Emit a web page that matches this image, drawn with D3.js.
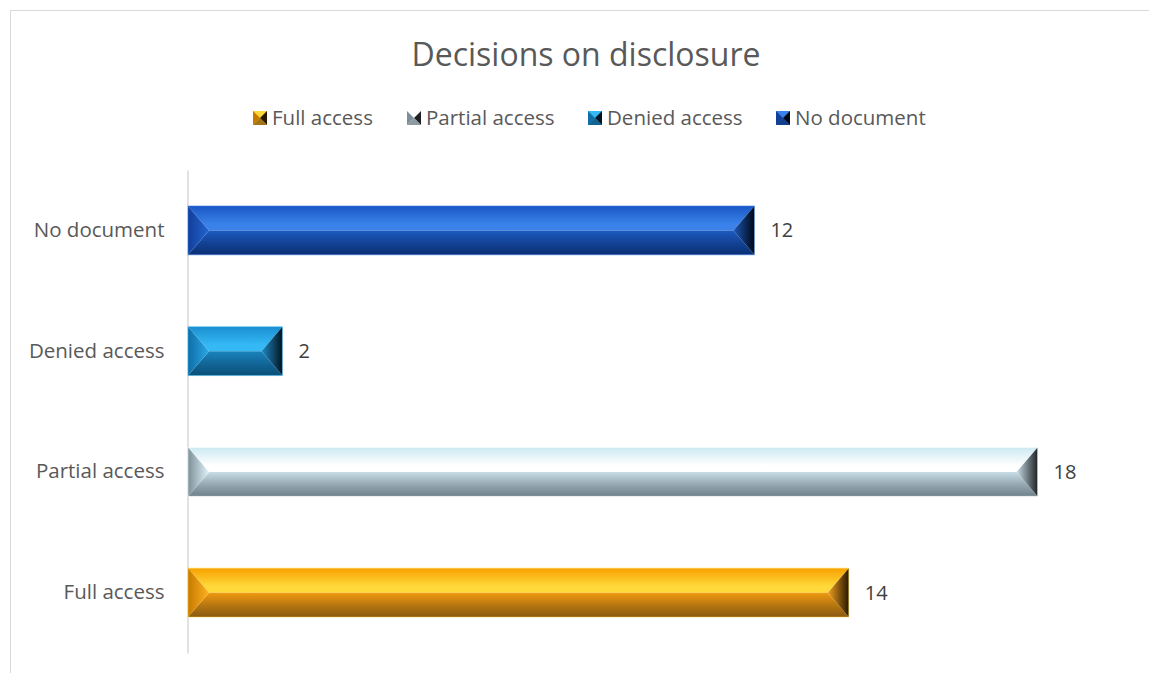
<!DOCTYPE html>
<html><head><meta charset="utf-8">
<script src="https://cdn.jsdelivr.net/npm/d3@7"></script>
<style>html,body{margin:0;padding:0;background:#fff;}svg{display:block;font-family:"Open Sans",Calibri,sans-serif;}</style>
</head><body>
<svg id="c" width="1149" height="673"></svg>
<script>
const categories = ["Full access", "Partial access", "Denied access", "No document"];
const values = [14, 18, 2, 12];
const xTicks = [0, 2, 4, 6, 8, 10, 12, 14, 16, 18, 20];
const title = "Decisions on disclosure";

// palette per category
const palettes = {
  "Full access":   {t0:"#f7a000", t1:"#ffd93a", b0:"#f09a10", b1:"#8a5a10", l0:"#c67a00", l1:"#ffb020", r0:"#f0a020", r1:"#2a1800"},
  "Partial access":{t0:"#cde9f2", t1:"#ffffff", b0:"#c8dde6", b1:"#6f828b", l0:"#7d9099", l1:"#dff3fa", r0:"#c7dde6", r1:"#1e2224"},
  "Denied access": {t0:"#1b8ed0", t1:"#35b9f5", b0:"#1a84bd", b1:"#0b4f78", l0:"#0f6ea6", l1:"#2aa6e6", r0:"#1f8ac8", r1:"#021420"},
  "No document":   {t0:"#1a57c4", t1:"#3a82ea", b0:"#1d5bc0", b1:"#0a2f74", l0:"#123f9a", l1:"#2263d0", r0:"#1d56b8", r1:"#000814"}
};

const svg = d3.select("#c");
const W = 1149, H = 673;

svg.append("rect").attr("x", 10.5).attr("y", 10.5).attr("width", W + 10).attr("height", H + 10)
  .attr("fill", "none").attr("stroke", "#d9d9d9").attr("stroke-width", 1);

const m = {left: 188, right: 17, top: 170, bottom: 20};
const x = d3.scaleLinear().domain([0, 20]).range([m.left, W - m.right]);
const y = d3.scaleBand().domain(categories.slice().reverse()).range([m.top, H - m.bottom]).paddingInner(0.595).paddingOuter(0.2975);

const defs = svg.append("defs");
function grad(id, stops, x1, y1, x2, y2) {
  const g = defs.append("linearGradient").attr("id", id)
    .attr("x1", x1).attr("y1", y1).attr("x2", x2).attr("y2", y2);
  stops.forEach(s => g.append("stop").attr("offset", s[0]).attr("stop-color", s[1]));
}
categories.forEach((c, i) => {
  const p = palettes[c];
  grad("top" + i, [[0, p.t0], [0.75, p.t1], [1, p.t1]], 0, 0, 0, 1);
  grad("bot" + i, [[0, p.b0], [0.55, d3.interpolateRgb(p.b0, p.b1)(0.6)], [1, p.b1]], 0, 0, 0, 1);
  grad("lef" + i, [[0, p.l0], [1, p.l1]], 0, 0, 1, 0);
  grad("rig" + i, [[0, p.r0], [1, p.r1]], 0, 0, 1, 0);
});

svg.append("text").attr("x", 586).attr("y", 66).attr("text-anchor", "middle")
  .attr("font-size", 32).attr("fill", "#595959").text(title);

const yAxis = svg.append("g").attr("transform", `translate(${m.left - 0.5},0)`)
  .call(d3.axisLeft(y).tickSize(0).tickPadding(23));
yAxis.select(".domain").attr("stroke", "#d9d9d9").attr("stroke-width", 1.5);
yAxis.selectAll("text").attr("font-size", 20.5).attr("fill", "#595959")
  .attr("font-family", "'Open Sans',sans-serif");

const bevel = 21;
const bars = svg.append("g");
categories.forEach((c, i) => {
  const v = values[i];
  const x0 = x(0), x1 = x(v), y0 = y(c), y1 = y(c) + y.bandwidth(), ym = (y0 + y1) / 2;
  const b = Math.min(bevel, (x1 - x0) / 2);
  const g = bars.append("g");
  g.append("polygon").attr("points", [[x0, y0], [x1, y0], [x1 - b, ym], [x0 + b, ym]].join(" ")).attr("fill", `url(#top${i})`);
  g.append("polygon").attr("points", [[x0, y1], [x1, y1], [x1 - b, ym], [x0 + b, ym]].join(" ")).attr("fill", `url(#bot${i})`);
  g.append("polygon").attr("points", [[x0, y0], [x0 + b, ym], [x0, y1]].join(" ")).attr("fill", `url(#lef${i})`);
  g.append("polygon").attr("points", [[x1, y0], [x1 - b, ym], [x1, y1]].join(" ")).attr("fill", `url(#rig${i})`);
  g.append("rect").attr("x", x0).attr("y", y0).attr("width", x1 - x0).attr("height", y1 - y0)
    .attr("fill", "none").attr("stroke", palettes[c].t1).attr("stroke-opacity", 0.5).attr("stroke-width", 1);
  svg.append("text").attr("x", x1 + 16).attr("y", ym).attr("dy", "0.35em")
    .attr("font-size", 20).attr("fill", "#404040").text(v);
});

const legendX = [253, 407, 588, 776];
const lg = svg.append("g");
categories.forEach((c, i) => {
  const p = palettes[c];
  const lx = legendX[i], ly = 111, s = 14;
  const g = lg.append("g");
  g.append("rect").attr("x", lx).attr("y", ly).attr("width", s).attr("height", s).attr("fill", p.t1);
  g.append("polygon").attr("points", [[lx, ly], [lx + s / 2, ly + s / 2], [lx, ly + s]].join(" ")).attr("fill", p.l0);
  g.append("polygon").attr("points", [[lx + s, ly], [lx + s / 2, ly + s / 2], [lx + s, ly + s]].join(" ")).attr("fill", p.r1);
  g.append("polygon").attr("points", [[lx, ly + s], [lx + s / 2, ly + s / 2], [lx + s, ly + s]].join(" ")).attr("fill", p.b1).attr("opacity", 0.8);
  g.append("text").attr("x", lx + 19).attr("y", ly + s / 2).attr("dy", "0.35em")
    .attr("font-size", 20.5).attr("fill", "#595959").text(c);
});
</script>
</body></html>
